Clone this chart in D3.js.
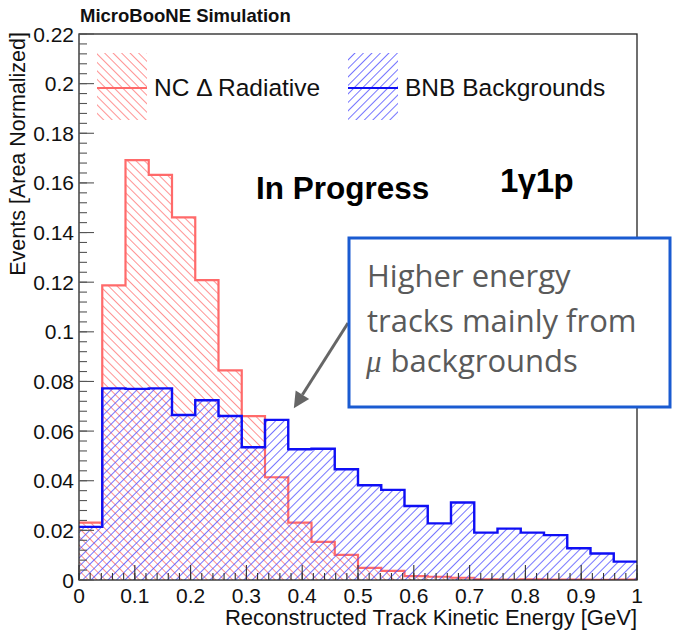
<!DOCTYPE html>
<html>
<head>
<meta charset="utf-8">
<script src="https://cdn.jsdelivr.net/npm/d3@7"></script>
<style>
  html, body { margin: 0; padding: 0; background: #fff; }
  svg { display: block; }
  text { font-family: "Liberation Sans", Arial, Helvetica, sans-serif; }
  text.note { font-family: "Open Sans", Lato, sans-serif; }
  tspan.mu { font-family: "Liberation Serif", "DejaVu Serif", serif; font-style: italic; }
</style>
</head>
<body>
<svg id="chart" width="673" height="633"></svg>
<script>
// Reconstructed track kinetic energy, 24 equal bins from 0 to 1 GeV
const binEdgesLow = 0;
const binEdgesHigh = 1;
const nBins = 24;

// Area-normalized contents per bin
const ncDeltaRadiative = [
  0.0231, 0.1187, 0.1692, 0.1632, 0.1461, 0.1208, 0.0845, 0.0660,
  0.0414, 0.0231, 0.0154, 0.0101, 0.0049, 0.0037, 0.0016, 0.0013,
  0.0009, 0.0003, 0.0002, 0.0003, 0.0002, 0.0002, 0.0001, 0.0002
];
const bnbBackgrounds = [
  0.0214, 0.0772, 0.0770, 0.0772, 0.0665, 0.0724, 0.0661, 0.0535,
  0.0645, 0.0527, 0.0529, 0.0446, 0.0382, 0.0363, 0.0298, 0.0228,
  0.0312, 0.0191, 0.0207, 0.0191, 0.0181, 0.0128, 0.0107, 0.0074
];

const seriesNames = ["NC \u0394 Radiative", "BNB Backgrounds"];
const xTickValues = [0, 0.1, 0.2, 0.3, 0.4, 0.5, 0.6, 0.7, 0.8, 0.9, 1];
const yTickValues = [0, 0.02, 0.04, 0.06, 0.08, 0.1, 0.12, 0.14, 0.16, 0.18, 0.2, 0.22];
const xTitle = "Reconstructed Track Kinetic Energy [GeV]";
const yTitle = "Events [Area Normalized]";
const plotTitle = "MicroBooNE Simulation";
const statusLabel = "In Progress";
const selectionLabel = "1\u03B31p";
const noteLines = ["Higher energy", "tracks mainly from", "backgrounds"];

const svg = d3.select("#chart");
const frame = { left: 79, right: 637, top: 34, bottom: 580 };

const x = d3.scaleLinear().domain([binEdgesLow, binEdgesHigh]).range([frame.left, frame.right]);
const y = d3.scaleLinear().domain([0, 0.22]).range([frame.bottom, frame.top]);
const binWidth = (binEdgesHigh - binEdgesLow) / nBins;

// Hatch patterns (ROOT-style 3004 / 3005)
const defs = svg.append("defs");
function hatch(id, color, angle, width) {
  const p = defs.append("pattern")
    .attr("id", id)
    .attr("patternUnits", "userSpaceOnUse")
    .attr("width", 6).attr("height", 6)
    .attr("patternTransform", `rotate(${angle})`);
  p.append("line")
    .attr("x1", 0).attr("y1", 0).attr("x2", 0).attr("y2", 6)
    .attr("stroke", color).attr("stroke-width", width);
}
hatch("hatchRed", "#ff8080", -45, 1.7);
hatch("hatchBlue", "#4848ff", 45, 1.5);

defs.append("clipPath").attr("id", "plotClip")
  .append("rect")
  .attr("x", frame.left).attr("y", frame.top)
  .attr("width", frame.right - frame.left).attr("height", frame.bottom - frame.top);

// Step points for a histogram: one point per lower edge plus the closing upper edge
function stepPoints(values) {
  const pts = values.map((v, i) => [binEdgesLow + i * binWidth, v]);
  pts.push([binEdgesHigh, values[values.length - 1]]);
  return pts;
}

const area = d3.area()
  .x(d => x(d[0])).y0(y(0)).y1(d => y(d[1]))
  .curve(d3.curveStepAfter);
const line = d3.line()
  .x(d => x(d[0])).y(d => y(d[1]))
  .curve(d3.curveStepAfter);

const plot = svg.append("g").attr("clip-path", "url(#plotClip)");

const redPts = stepPoints(ncDeltaRadiative);
const bluePts = stepPoints(bnbBackgrounds);

plot.append("path").attr("d", area(redPts)).attr("fill", "url(#hatchRed)");
plot.append("path").attr("d", line(redPts))
  .attr("fill", "none").attr("stroke", "#ff6a6a").attr("stroke-width", 2.2);
plot.append("path").attr("d", area(bluePts)).attr("fill", "url(#hatchBlue)");
plot.append("path").attr("d", line(bluePts))
  .attr("fill", "none").attr("stroke", "#0f0ff5").attr("stroke-width", 2.4);

// Frame
svg.append("rect")
  .attr("x", frame.left).attr("y", frame.top)
  .attr("width", frame.right - frame.left).attr("height", frame.bottom - frame.top)
  .attr("fill", "none").attr("stroke", "#222").attr("stroke-width", 1.3);

// Axes: major ticks with labels, minor ticks at fifths
const axisColor = "#333";
const xAxis = svg.append("g").attr("transform", `translate(0,${frame.bottom})`);
const xMinor = d3.range(0, 1.0001, 0.02);
xAxis.selectAll("line.minor").data(xMinor).join("line")
  .attr("x1", d => x(d)).attr("x2", d => x(d))
  .attr("y1", 0).attr("y2", -7)
  .attr("stroke", axisColor).attr("stroke-width", 1.1);
xAxis.selectAll("line.major").data(xTickValues).join("line")
  .attr("x1", d => x(d)).attr("x2", d => x(d))
  .attr("y1", 0).attr("y2", -15)
  .attr("stroke", axisColor).attr("stroke-width", 1.1);
xAxis.selectAll("text").data(xTickValues).join("text")
  .attr("x", d => x(d)).attr("y", 23)
  .attr("text-anchor", "middle")
  .attr("font-size", 21).attr("fill", "#111")
  .text(d => d3.format("~g")(d));

const yAxis = svg.append("g").attr("transform", `translate(${frame.left},0)`);
const yMinor = d3.range(0, 0.2201, 0.004);
yAxis.selectAll("line.minor").data(yMinor).join("line")
  .attr("x1", 0).attr("x2", 8)
  .attr("y1", d => y(d)).attr("y2", d => y(d))
  .attr("stroke", "#555").attr("stroke-width", 1.1);
yAxis.selectAll("line.major").data(yTickValues).join("line")
  .attr("x1", 0).attr("x2", 15)
  .attr("y1", d => y(d)).attr("y2", d => y(d))
  .attr("stroke", "#555").attr("stroke-width", 1.1);
yAxis.selectAll("text").data(yTickValues).join("text")
  .attr("x", -5).attr("y", d => y(d))
  .attr("dy", "0.36em")
  .attr("text-anchor", "end")
  .attr("font-size", 21).attr("fill", "#111")
  .text(d => d3.format("~g")(d));

// Axis titles
svg.append("text")
  .attr("x", frame.right).attr("y", 625)
  .attr("text-anchor", "end")
  .attr("font-size", 22).attr("fill", "#111")
  .text(xTitle);
svg.append("text")
  .attr("transform", `translate(25,${frame.top - 2}) rotate(-90)`)
  .attr("text-anchor", "end")
  .attr("font-size", 21.5).attr("fill", "#111")
  .text(yTitle);

// Title and labels
svg.append("text")
  .attr("x", 80).attr("y", 22)
  .attr("font-size", 18.5).attr("font-weight", "bold").attr("fill", "#111")
  .text(plotTitle);
svg.append("text")
  .attr("x", 256).attr("y", 199)
  .attr("font-size", 31.5).attr("font-weight", "bold").attr("fill", "#000")
  .text(statusLabel);
svg.append("text")
  .attr("x", 500).attr("y", 192)
  .attr("font-size", 33).attr("font-weight", "bold").attr("fill", "#000")
  .attr("letter-spacing", -0.5)
  .text(selectionLabel);

// Legend
const legend = [
  { name: seriesNames[0], fill: "url(#hatchRed)", stroke: "#ff6a6a", x0: 97 },
  { name: seriesNames[1], fill: "url(#hatchBlue)", stroke: "#0f0ff5", x0: 348 }
];
const lg = svg.selectAll("g.legend").data(legend).join("g").attr("class", "legend");
lg.append("rect")
  .attr("x", d => d.x0).attr("y", 53).attr("width", 50).attr("height", 67)
  .attr("fill", d => d.fill);
lg.append("line")
  .attr("x1", d => d.x0).attr("x2", d => d.x0 + 50)
  .attr("y1", 88).attr("y2", 88)
  .attr("stroke", d => d.stroke).attr("stroke-width", 2.2);
lg.append("text")
  .attr("x", d => d.x0 + 57).attr("y", 96)
  .attr("font-size", 24.5).attr("fill", "#111")
  .text(d => d.name);

// Callout pointing at the high-energy tail
const callout = svg.append("g");
const tip = [x(0.385), y(0.0692)];
const tail = [348, 323];
const ang = Math.atan2(tip[1] - tail[1], tip[0] - tail[0]);
const headLen = 16, headHalf = 8;
const base = [tip[0] - headLen * Math.cos(ang), tip[1] - headLen * Math.sin(ang)];
callout.append("line")
  .attr("x1", tail[0]).attr("y1", tail[1])
  .attr("x2", base[0]).attr("y2", base[1])
  .attr("stroke", "#666").attr("stroke-width", 3);
callout.append("polygon")
  .attr("points", [
    tip,
    [base[0] + headHalf * Math.sin(ang), base[1] - headHalf * Math.cos(ang)],
    [base[0] - headHalf * Math.sin(ang), base[1] + headHalf * Math.cos(ang)]
  ].map(p => p.join(",")).join(" "))
  .attr("fill", "#666");
callout.append("rect")
  .attr("x", 349).attr("y", 238).attr("width", 321).attr("height", 169)
  .attr("fill", "#fff").attr("stroke", "#1a5bd1").attr("stroke-width", 3);
const noteSize = 31;
callout.append("text").attr("class", "note").attr("x", 367).attr("y", 287)
  .attr("font-size", noteSize).attr("fill", "#5a5a5a")
  .text(noteLines[0]);
callout.append("text").attr("class", "note").attr("x", 367).attr("y", 332)
  .attr("font-size", noteSize).attr("fill", "#5a5a5a")
  .text(noteLines[1]);
const l3 = callout.append("text").attr("class", "note").attr("x", 366).attr("y", 372)
  .attr("font-size", noteSize).attr("fill", "#5a5a5a");
l3.append("tspan").attr("class", "mu").text("\u03BC");
l3.append("tspan").attr("dx", 9).text(noteLines[2]);
</script>
</body>
</html>
